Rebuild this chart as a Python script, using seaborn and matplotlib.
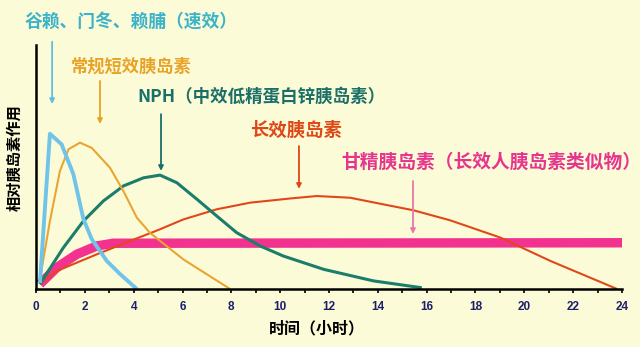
import matplotlib
matplotlib.use("Agg")
import matplotlib.pyplot as plt
import seaborn as sns
import pandas as pd

# Relative insulin action (0-100) over time (hours) for each insulin type
rapid_t = [0.16, 0.57, 1.05, 1.53, 1.94, 2.28, 2.9, 3.44, 4.13]
rapid_v = [2.4, 63.1, 58.8, 46.7, 28.5, 20.3, 11.4, 6.1, 0.0]

regular_t = [0.16, 0.57, 0.98, 1.33, 1.8, 2.28, 3.03, 3.58, 4.13, 4.67, 6.04, 7.95]
regular_v = [4.0, 27.6, 48.0, 56.8, 59.5, 57.4, 49.3, 39.8, 29.0, 22.8, 12.0, 0.0]

nph_t = [0.16, 1.12, 1.94, 2.76, 3.58, 4.4, 5.08, 5.77, 6.59, 7.4, 8.22, 9.18, 10.13, 11.78, 13.82, 15.8]
nph_v = [2.0, 16.8, 27.6, 35.8, 41.9, 45.2, 46.3, 43.2, 36.5, 29.7, 22.9, 17.5, 13.4, 8.0, 3.3, 0.5]

long_t = [0.16, 0.85, 2.49, 3.85, 5.01, 6.04, 7.4, 8.77, 10.41, 11.5, 12.87, 14.23, 15.46, 16.97, 19.02, 21.07, 23.8]
long_v = [2.0, 7.3, 14.1, 19.5, 24.0, 28.3, 32.4, 35.1, 36.8, 37.8, 37.1, 34.4, 32.0, 27.9, 20.9, 11.4, 0.0]

glargine_t = [0.16, 0.85, 1.67, 2.49, 3.17, 24.0]
glargine_v = [2.0, 8.7, 14.1, 17.5, 18.6, 18.8]

x_ticks = [0, 2, 4, 6, 8, 10, 12, 14, 16, 18, 20, 22, 24]

label_rapid = "谷赖、门冬、赖脯（速效）"
label_regular = "常规短效胰岛素"
label_nph = "NPH（中效低精蛋白锌胰岛素）"
label_long = "长效胰岛素"
label_glargine = "甘精胰岛素（长效人胰岛素类似物）"
x_title = "时间（小时）"
y_title = "相对胰岛素作用"

sns.set_style("white")
plt.rcParams["font.family"] = ["Noto Sans CJK SC", "DejaVu Sans"]

bg = "#fcfbd8"
W, H = 640, 347
fig = plt.figure(figsize=(6.4, 3.47), dpi=100, facecolor=bg)
ax = fig.add_axes([36 / W, (H - 289) / H, 586 / W, 244 / H])
ax.set_facecolor(bg)

series = [
    (glargine_t, glargine_v, "#f2328e", 6.8),
    (long_t, long_v, "#e0481a", 1.5),
    (nph_t, nph_v, "#1b7d6a", 2.2),
    (regular_t, regular_v, "#eaa432", 1.5),
    (rapid_t, rapid_v, "#70c4ea", 2.8),
]
for t, v, c, lw in series:
    df = pd.DataFrame({"t": t, "v": v})
    sns.lineplot(data=df, x="t", y="v", ax=ax, color=c, linewidth=lw,
                 sort=False, estimator=None, solid_capstyle="butt",
                 solid_joinstyle="round")

ax.set_xlim(0, 24)
ax.set_ylim(0, 99.2)
ax.set_xlabel("")
ax.set_ylabel("")
ax.set_yticks([])
ax.set_xticks(x_ticks)
ax.set_xticks(range(0, 25), minor=True)
ax.set_xticklabels([str(v) for v in x_ticks], fontfamily="Liberation Sans",
                   fontweight="bold", fontsize=8.5, color="#1e1e6a")
ax.tick_params(axis="x", which="both", direction="out", length=3, width=1.2,
               color="black", pad=6, bottom=True)
for side in ("top", "right"):
    ax.spines[side].set_visible(False)
for side in ("left", "bottom"):
    ax.spines[side].set_color("black")
    ax.spines[side].set_linewidth(1.8)


def px_text(x, y, s, color, size, **kw):
    fig.text(x / W, 1 - y / H, s, color=color, fontsize=size,
             fontweight="bold", ha="left", va="center", **kw)


def arrow(t, v_from, v_to, color):
    ax.annotate("", xy=(t, v_to), xytext=(t, v_from), annotation_clip=False,
                arrowprops=dict(arrowstyle="-|>", color=color, lw=1.3,
                                mutation_scale=7, shrinkA=0, shrinkB=0))


px_text(25, 22, label_rapid, "#3db3c9", 12.8)
px_text(71, 67, label_regular, "#e8a226", 12.4)
px_text(137, 97, label_nph, "#1a6f68", 12.6)
px_text(250, 130, label_long, "#dd4816", 13.2)
px_text(341, 162, label_glargine, "#e6358e", 13.5)

arrow(0.66, 100.5, 75.2, "#5cc0e0")
arrow(2.62, 84.6, 67.1, "#e8a226")
arrow(5.12, 71.1, 48.0, "#1a6f68")
arrow(10.77, 58.1, 40.7, "#dd4816")
arrow(15.44, 43.9, 22.4, "#e878a8")

fig.text(14 / W, 1 - 158 / H, y_title, rotation=90, ha="center", va="center",
         fontsize=11, fontweight="bold", color="black")
fig.text(317 / W, 1 - 328 / H, x_title, ha="center", va="center",
         fontsize=11.5, fontweight="bold", color="black")

fig.savefig("out.png", dpi=100, facecolor=bg)
